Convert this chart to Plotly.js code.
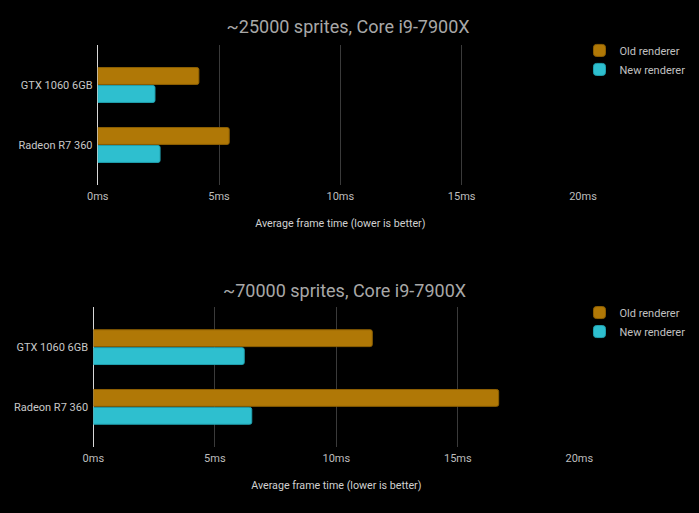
<!DOCTYPE html>
<html>
<head>
<meta charset="utf-8">
<script src="https://cdn.plot.ly/plotly-3.0.1.min.js"></script>
<style>html,body{margin:0;padding:0;background:#000;}#chart{width:699px;height:513px;}</style>
</head>
<body>
<div id="chart"></div>
<script>
const gpus = ["GTX 1060 6GB", "Radeon R7 360"];
const seriesNames = ["Old renderer", "New renderer"];
const old25k = [4.17, 5.42];
const new25k = [2.36, 2.57];
const old70k = [11.48, 16.68];
const new70k = [6.21, 6.52];
const xTickVals = [0, 5, 10, 15, 20];
const xTickText = ["0ms", "5ms", "10ms", "15ms", "20ms"];
const titles = ["~25000 sprites, Core i9-7900X", "~70000 sprites, Core i9-7900X"];
const axisTitle = "Average frame time (lower is better)";

const OLD = "#b07806", OLD_LINE = "#8c5f03";
const NEW = "#2ebfcf", NEW_LINE = "#20a0ae";
const FONT = "Roboto, sans-serif";

function bar(x, name, color, line, xa, ya, legend) {
  return {type: "bar", orientation: "h", y: gpus, x: x, name: name,
    xaxis: xa, yaxis: ya, legend: legend,
    marker: {color: color, line: {color: line, width: 1}, cornerradius: 2},
    hoverinfo: "x+y"};
}
const data = [
  bar(old25k, seriesNames[0], OLD, OLD_LINE, "x", "y", "legend"),
  bar(new25k, seriesNames[1], NEW, NEW_LINE, "x", "y", "legend"),
  bar(old70k, seriesNames[0], OLD, OLD_LINE, "x2", "y2", "legend2"),
  bar(new70k, seriesNames[1], NEW, NEW_LINE, "x2", "y2", "legend2")
];

function xa(domain, anchor) {
  return {domain: domain, anchor: anchor, range: [0, 20], tickvals: xTickVals, ticktext: xTickText,
    showgrid: true, gridcolor: "#3a3a3a", gridwidth: 1,
    zeroline: true, zerolinecolor: "#d8d8d8", zerolinewidth: 1,
    showline: false, ticks: "outside", ticklen: 1, tickcolor: "rgba(0,0,0,0)",
    tickfont: {family: FONT, size: 11, color: "#bdbdbd"},
    title: {text: axisTitle, font: {family: FONT, size: 10.7, color: "#d0d0d0"}, standoff: 17},
    fixedrange: true};
}
function ya(domain, anchor) {
  return {domain: domain, anchor: anchor, type: "category", range: [1.667, -0.667],
    showgrid: false, zeroline: false, showline: false,
    ticks: "outside", ticklen: 2, tickcolor: "rgba(0,0,0,0)",
    tickfont: {family: FONT, size: 11, color: "#c8c8c8"}, fixedrange: true};
}
function leg(y) {
  return {x: 0.829, xanchor: "left", y: y, yanchor: "top", bgcolor: "rgba(0,0,0,0)",
    font: {family: FONT, size: 11, color: "#c0c0c0"}, traceorder: "normal", tracegroupgap: 0};
}

const layout = {
  width: 699, height: 513,
  paper_bgcolor: "#000", plot_bgcolor: "#000",
  margin: {l: 0, r: 0, t: 0, b: 0},
  barmode: "group", bargap: 0.4, bargroupgap: 0.06,
  font: {family: FONT, color: "#c8c8c8"},
  title: {text: titles[0], font: {family: FONT, size: 18, color: "#a8a8a8"},
    x: 0.498, xanchor: "center", y: 1 - 27/513, yanchor: "middle"},
  xaxis: xa([0.1398, 0.834], "y"),
  yaxis: ya([0.6394, 0.9123], "x"),
  xaxis2: xa([0.1335, 0.8288], "y2"),
  yaxis2: ya([0.1292, 0.401], "x2"),
  legend: leg(0.93),
  legend2: leg(0.419),
  annotations: [{text: titles[1], xref: "paper", yref: "paper", x: 0.493, y: 1 - 290/513,
    xanchor: "center", yanchor: "middle", showarrow: false,
    font: {family: FONT, size: 18, color: "#a8a8a8"}}]
};

Plotly.newPlot("chart", data, layout, {displayModeBar: false, staticPlot: false});
</script>
</body>
</html>
